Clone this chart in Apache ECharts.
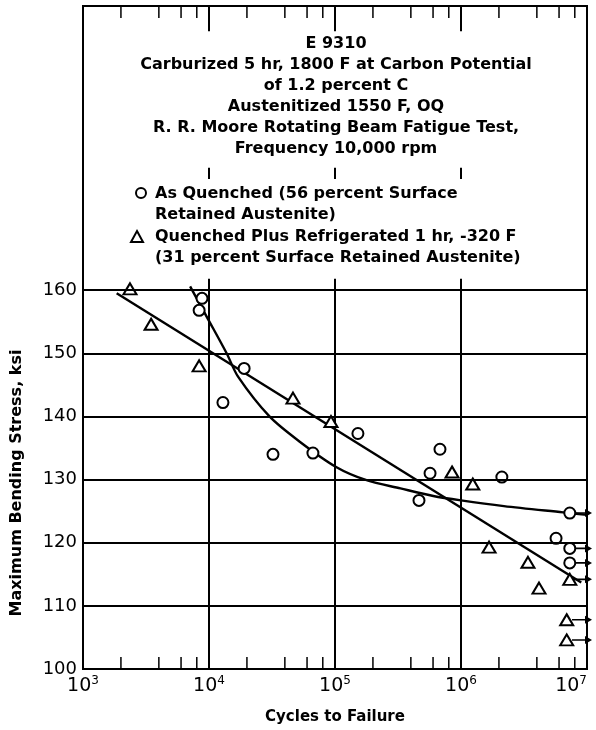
<!DOCTYPE html>
<html>
<head>
<meta charset="utf-8">
<script src="https://cdn.jsdelivr.net/npm/echarts@6/dist/echarts.min.js"></script>
<style>
  html, body { margin: 0; padding: 0; background: #fff; }
  #chart { width: 596px; height: 730px; }
</style>
</head>
<body>
<div id="chart"></div>
<script>
// values (cycles, ksi)
const asQuenched = [
  [8350, 156.8], [8800, 158.7], [12900, 142.2], [19000, 147.6], [32200, 134.0],
  [66800, 134.2], [152000, 137.3], [464000, 126.7], [568000, 131.0], [681000, 134.8],
  [2110000, 130.4], [5680000, 120.7],
  [7300000, 124.7], [7300000, 119.1], [7300000, 116.8]
]
const refrigerated = [
  [2360, 160.2], [3470, 154.6], [8350, 148.0], [46400, 142.9], [92900, 139.2],
  [849000, 131.2], [1240000, 129.3], [1670000, 119.3], [3400000, 116.9], [4160000, 112.8],
  [7300000, 114.2], [6900000, 107.8], [6900000, 104.6]
]
// fitted curves as drawn
const asQuenchedCurve = [
  [7080, 160.6], [9770, 155.5], [13800, 150.0], [17000, 146.3], [30200, 140.0],
  [52500, 136.0], [102000, 132.0], [178000, 129.9], [331000, 128.6], [603000, 127.4],
  [1000000, 126.7], [2190000, 125.8], [6460000, 124.8], [10000000, 124.4]
]
const refrigeratedLine = [[1850, 159.5], [9000000, 113.7]]
// specimens that did not fail (run-outs at 10^7)
const runoutStress = [124.7, 119.1, 116.8, 114.2, 107.8, 104.6]

const yGridValues = [110, 120, 130, 140, 150, 160]
const decadeValues = [10000, 100000, 1000000]
const minorTickValues = [
  2000, 4000, 6000, 8000,
  20000, 40000, 60000, 80000,
  200000, 400000, 600000, 800000,
  2000000, 4000000, 6000000, 8000000
]

const titleLines = [
  'E 9310',
  'Carburized 5 hr, 1800 F at Carbon Potential',
  'of 1.2 percent C',
  'Austenitized 1550 F, OQ',
  'R. R. Moore Rotating Beam Fatigue Test,',
  'Frequency 10,000 rpm'
]
const legendLines = [
  'As Quenched (56 percent Surface',
  'Retained Austenite)',
  'Quenched Plus Refrigerated 1 hr, -320 F',
  '(31 percent Surface Retained Austenite)'
]

const Y_MIN = 100
const Y_MAX = 205
const BLACK = '#000'
const FONT = 'DejaVu Sans'

const chart = echarts.init(document.getElementById('chart'), null, { renderer: 'canvas' })

const option = {
  animation: false,
  backgroundColor: '#fff',
  grid: {
    left: 83, right: 9, top: 6, bottom: 61,
    containLabel: false,
    outerBoundsMode: 'none',
    show: true, borderColor: BLACK, borderWidth: 2
  },
  xAxis: {
    type: 'log',
    logBase: 10,
    min: 1000,
    max: 10000000,
    name: 'Cycles to Failure',
    nameLocation: 'middle',
    nameGap: 41,
    nameTextStyle: { fontFamily: FONT, fontWeight: 'bold', fontSize: 15, color: BLACK },
    axisLine: { lineStyle: { color: BLACK, width: 2 } },
    axisTick: { show: false },
    splitLine: { show: false },
    axisLabel: {
      margin: 6,
      alignMaxLabel: 'right',
      formatter: function (v) {
        const e = Math.round(Math.log10(v))
        return '{b|10}{s|' + e + '}'
      },
      rich: {
        b: { fontFamily: FONT, fontSize: 19, color: BLACK, lineHeight: 22 },
        s: { fontFamily: FONT, fontSize: 12, color: BLACK, verticalAlign: 'top', lineHeight: 14 }
      }
    }
  },
  yAxis: {
    type: 'value',
    min: Y_MIN,
    max: Y_MAX,
    interval: 10,
    axisLine: { lineStyle: { color: BLACK, width: 2 } },
    axisTick: { show: false },
    splitLine: { show: false },
    axisLabel: {
      margin: 6,
      fontFamily: FONT,
      fontSize: 18,
      color: BLACK,
      showMaxLabel: false,
      formatter: function (v) { return v <= 160 ? String(v) : '' }
    }
  },
  graphic: [
    {
      type: 'text',
      x: 336, y: 33,
      style: {
        text: titleLines.join('\n'),
        fontFamily: FONT, fontWeight: 'bold', fontSize: 16,
        lineHeight: 21, fill: BLACK,
        textAlign: 'center', textVerticalAlign: 'top'
      }
    },
    {
      type: 'text',
      x: 155, y: 183,
      style: {
        text: legendLines.join('\n'),
        fontFamily: FONT, fontWeight: 'bold', fontSize: 16,
        lineHeight: 21.5, fill: BLACK,
        textAlign: 'left', textVerticalAlign: 'top'
      }
    },
    {
      type: 'circle',
      shape: { cx: 141, cy: 193, r: 5 },
      style: { fill: '#fff', stroke: BLACK, lineWidth: 2 }
    },
    {
      type: 'polygon',
      shape: { points: [[137, 231], [143, 242], [131, 242]] },
      style: { fill: '#fff', stroke: BLACK, lineWidth: 2 }
    },
    {
      type: 'text',
      x: 17, y: 483,
      rotation: Math.PI / 2,
      style: {
        text: 'Maximum Bending Stress, ksi',
        fontFamily: FONT, fontWeight: 'bold', fontSize: 16, fill: BLACK,
        textAlign: 'center', textVerticalAlign: 'middle'
      }
    }
  ],
  series: [
    {
      // log minor ticks, bottom and top edges
      type: 'custom',
      silent: true,
      clip: false,
      data: minorTickValues.map(v => [v, Y_MIN]),
      renderItem: function (params, api) {
        const v = api.value(0)
        const b = api.coord([v, Y_MIN])
        const t = api.coord([v, Y_MAX])
        const st = { stroke: BLACK, lineWidth: 1.5 }
        return {
          type: 'group',
          children: [
            { type: 'line', shape: { x1: b[0], y1: b[1], x2: b[0], y2: b[1] - 12 }, style: st },
            { type: 'line', shape: { x1: t[0], y1: t[1], x2: t[0], y2: t[1] + 12 }, style: st }
          ]
        }
      }
    },
    {
      // decade grid lines, broken by the text block
      type: 'custom',
      silent: true,
      clip: false,
      data: decadeValues.map(v => [v, Y_MIN]),
      renderItem: function (params, api) {
        const v = api.value(0)
        const p0 = api.coord([v, Y_MIN])
        const p1 = api.coord([v, 161.8])
        const s0 = api.coord([v, 177.6])
        const s1 = api.coord([v, 179.4])
        const t0 = api.coord([v, Y_MAX])
        const t1 = api.coord([v, 201])
        const st = { stroke: BLACK, lineWidth: 2 }
        return {
          type: 'group',
          children: [
            { type: 'line', shape: { x1: p0[0], y1: p0[1], x2: p1[0], y2: p1[1] }, style: st },
            { type: 'line', shape: { x1: s0[0], y1: s0[1], x2: s1[0], y2: s1[1] }, style: st },
            { type: 'line', shape: { x1: t0[0], y1: t0[1], x2: t1[0], y2: t1[1] }, style: st }
          ]
        }
      }
    },
    {
      name: 'Quenched Plus Refrigerated',
      type: 'line',
      data: refrigeratedLine,
      showSymbol: false,
      silent: true,
      lineStyle: { color: BLACK, width: 2.4 },
      markLine: {
        silent: true,
        symbol: 'none',
        label: { show: false },
        lineStyle: { color: BLACK, width: 2, type: 'solid' },
        data: yGridValues.map(v => ({ yAxis: v }))
      },
      z: 2
    },
    {
      name: 'As Quenched',
      type: 'line',
      data: asQuenchedCurve,
      showSymbol: false,
      silent: true,
      smooth: 0.3,
      lineStyle: { color: BLACK, width: 2.4 },
      z: 2
    },
    {
      // run-out arrows at the right edge
      type: 'scatter',
      silent: true,
      data: runoutStress.map(s => [10000000, s]),
      symbol: 'path://M0,3.2 L13,3.2 L13,0 L20,4 L13,8 L13,4.8 L0,4.8 Z',
      symbolSize: [20, 8],
      symbolOffset: [-5, 0],
      itemStyle: { color: BLACK, opacity: 1 },
      z: 3
    },
    {
      name: 'As Quenched (56 percent Surface Retained Austenite)',
      type: 'scatter',
      data: asQuenched,
      symbol: 'circle',
      symbolSize: 11,
      itemStyle: { color: '#fff', borderColor: BLACK, borderWidth: 2, opacity: 1 },
      z: 4
    },
    {
      name: 'Quenched Plus Refrigerated 1 hr, -320 F (31 percent Surface Retained Austenite)',
      type: 'scatter',
      data: refrigerated,
      symbol: 'triangle',
      symbolSize: [13, 11],
      itemStyle: { color: '#fff', borderColor: BLACK, borderWidth: 2, opacity: 1 },
      z: 4
    }
  ]
}

chart.setOption(option)
</script>
</body>
</html>
